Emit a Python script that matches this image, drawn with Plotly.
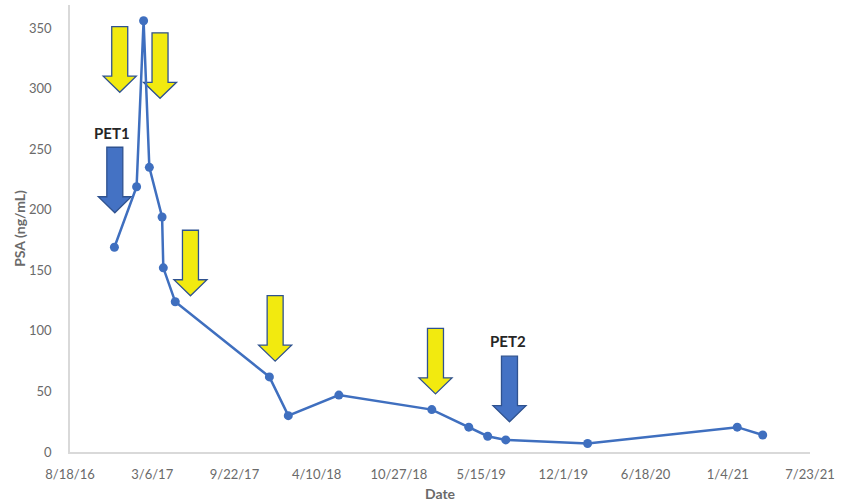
import plotly.graph_objects as go

# PSA measurements over time
dates = [
    "2016-12-04", "2017-01-27", "2017-02-13", "2017-02-27", "2017-03-30",
    "2017-04-02", "2017-05-01", "2017-12-16", "2018-01-31", "2018-06-03",
    "2019-01-15", "2019-04-15", "2019-05-31", "2019-07-14", "2020-01-29",
    "2021-01-27", "2021-03-30",
]
psa = [169, 219, 356, 235, 194, 152, 124, 62, 30, 47, 35, 20.5, 13, 10, 7, 20.5, 14]

# x-axis ticks (every 200 days)
tick_dates = [
    "2016-08-18", "2017-03-06", "2017-09-22", "2018-04-10", "2018-10-27",
    "2019-05-15", "2019-12-01", "2020-06-18", "2021-01-04", "2021-07-23",
]
tick_labels = [
    "8/18/16", "3/6/17", "9/22/17", "4/10/18", "10/27/18",
    "5/15/19", "12/1/19", "6/18/20", "1/4/21", "7/23/21",
]
y_ticks = [0, 50, 100, 150, 200, 250, 300, 350]

# treatment markers: tip position (date, PSA level)
yellow_arrow_dates = ["2016-12-17", "2017-03-25", "2017-06-07", "2017-12-30", "2019-01-24"]
yellow_arrow_tips = [297, 292, 129, 75, 48]
pet_arrow_dates = ["2016-12-05", "2019-07-23"]
pet_arrow_tips = [197.5, 25]
pet_labels = ["PET1", "PET2"]
pet_label_dates = ["2016-11-28", "2019-07-19"]
pet_label_levels = [263, 92]

LINE_BLUE = "#3F6FBF"
OUTLINE = "#2F528F"
YELLOW = "#F2EA0F"
GRAY = "#6A6A6A"

# block arrow pointing down, tip at origin (pixel units, y up)
ARROW_PATH = "M 0,0 L -16.5,16 L -8,16 L -8,65.5 L 8,65.5 L 8,16 L 16.5,16 Z"

fig = go.Figure()
fig.add_trace(go.Scatter(
    x=dates, y=psa, mode="lines+markers",
    line=dict(color=LINE_BLUE, width=2.5),
    marker=dict(color=LINE_BLUE, size=9),
    showlegend=False, cliponaxis=False,
))

shapes = []
for d, v in zip(yellow_arrow_dates, yellow_arrow_tips):
    shapes.append(dict(
        type="path", xref="x", yref="y", xsizemode="pixel", ysizemode="pixel",
        xanchor=d, yanchor=v, path=ARROW_PATH,
        fillcolor=YELLOW, line=dict(color=OUTLINE, width=1.3), layer="below",
    ))
for d, v in zip(pet_arrow_dates, pet_arrow_tips):
    shapes.append(dict(
        type="path", xref="x", yref="y", xsizemode="pixel", ysizemode="pixel",
        xanchor=d, yanchor=v, path=ARROW_PATH,
        fillcolor="#4472C4", line=dict(color=OUTLINE, width=1.3), layer="below",
    ))

annotations = []
for txt, d, v in zip(pet_labels, pet_label_dates, pet_label_levels):
    annotations.append(dict(
        x=d, y=v, xref="x", yref="y", text=f"<b>{txt}</b>", showarrow=False,
        font=dict(family="Lato", size=15, color="#262626"),
        xanchor="center", yanchor="middle",
    ))

fig.update_layout(
    width=852, height=504,
    margin=dict(l=70, r=42, t=5, b=52),
    paper_bgcolor="white", plot_bgcolor="white",
    font=dict(family="Lato", size=13, color=GRAY),
    shapes=shapes, annotations=annotations,
    xaxis=dict(
        type="date", range=["2016-08-18", "2021-07-23"],
        tickvals=tick_dates, ticktext=tick_labels,
        showgrid=False, zeroline=False,
        showline=True, linecolor="#D9D9D9", linewidth=1.5,
        ticks="", ticklabelstandoff=10,
        tickfont=dict(family="Lato", size=13, color=GRAY),
        title=dict(text="<b>Date</b>", font=dict(family="Lato", size=14, color=GRAY), standoff=8),
    ),
    yaxis=dict(
        range=[0, 369], tickvals=y_ticks,
        showgrid=False, zeroline=False,
        showline=True, linecolor="#D9D9D9", linewidth=1.5,
        ticks="", ticklabelstandoff=14,
        tickfont=dict(family="Lato", size=13, color=GRAY),
        title=dict(text="<b>PSA (ng/mL)</b>", font=dict(family="Lato", size=14, color=GRAY), standoff=0),
    ),
)

fig.write_html("out.html")
